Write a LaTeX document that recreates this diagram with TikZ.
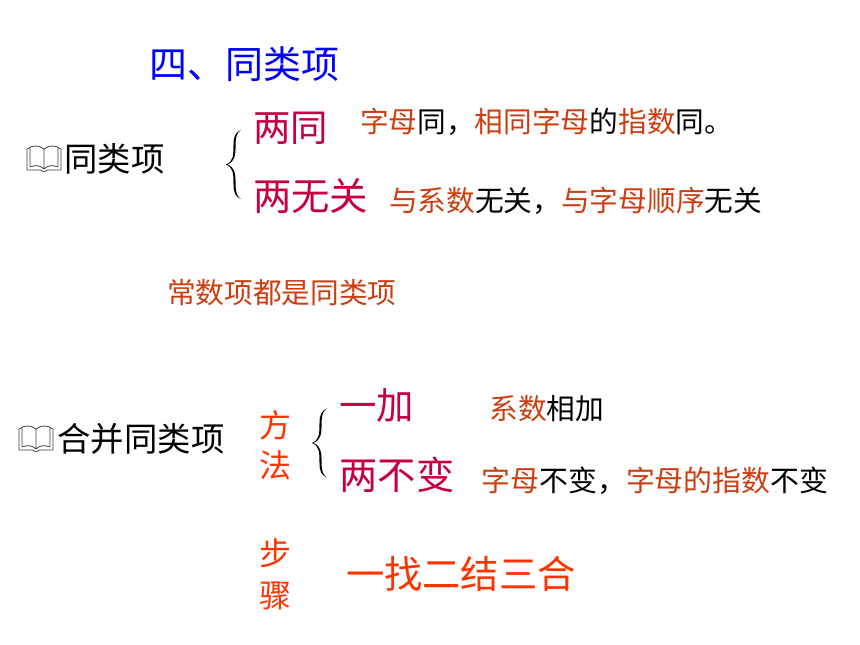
\documentclass[tikz,border=0pt]{standalone}
\usepackage{fontspec}
\setmainfont{Noto Sans CJK SC}
\definecolor{headblue}{HTML}{0000FF}
\definecolor{crimsonc}{HTML}{C4003F}
\definecolor{rustc}{HTML}{CC3D10}
\definecolor{orangec}{HTML}{FF3300}
\newcommand{\rs}[1]{\textcolor{rustc}{#1}}
\tikzset{
 x=1pt,y=1pt,
 lbl/.style={inner sep=0pt,outer sep=0pt,anchor=base west},
 sizeT/.style={lbl,font=\fontsize{38}{40}\selectfont},
 sizeL/.style={lbl,font=\fontsize{37.4}{40}\selectfont,text=crimsonc},
 sizeM/.style={lbl,font=\fontsize{33.4}{36}\selectfont,text=black},
 sizeS/.style={lbl,font=\fontsize{28.7}{30}\selectfont,text=black},
 sizeV/.style={lbl,font=\fontsize{32}{34}\selectfont,text=orangec},
 bracesym/.pic={
  \fill[black] (15,34.5)
    .. controls (9.5,32.5) and (7.5,28) .. (7.5,20)
    .. controls (7.5,8) and (7,3) .. (0,0)
    .. controls (7,-3) and (7.5,-8) .. (7.5,-20)
    .. controls (7.5,-28) and (9.5,-32.5) .. (15,-34.5)
    .. controls (11,-32) and (9.6,-28) .. (9.6,-20)
    .. controls (9.6,-8) and (8.5,-3) .. (1.5,0)
    .. controls (8.5,3) and (9.6,8) .. (9.6,20)
    .. controls (9.6,28) and (11,32) .. (15,34.5) -- cycle;
 },
 bookicon/.pic={
  \draw[black!75,line width=0.8pt,fill=white]
    (0,2) -- (0,23) .. controls (5,27) and (12,27) .. (17,23)
    .. controls (22,27) and (29,27) .. (34,23) -- (34,2) -- (20,2)
    .. controls (19,0) and (15,0) .. (14,2) -- cycle;
  \draw[black!75,line width=0.8pt]
    (3,5) -- (3,25) (31,5) -- (31,25)
    (3,5) .. controls (8,7) and (13,7) .. (17,3)
    .. controls (21,7) and (26,7) .. (31,5)
    (17,3) -- (17,23);
 }
}
\begin{document}
\begin{tikzpicture}
\useasboundingbox (0,0) rectangle (860,645);
\fill[white] (0,0) rectangle (860,645);

\node[sizeT,text=headblue] (title) at (149,566) {四、同类项};

\pic at (27,473) {bookicon};
\node[sizeM] (tongleixiang) at (64.5,473) {同类项};
\node[sizeL] (liangtong) at (253,503) {两同};
\node[sizeL,font=\fontsize{38.4}{40}\selectfont] (liangwuguan) at (253,434) {两无关};
\node[sizeS] (note1) at (360,512) {\rs{字母}同，\rs{相同字母}的\rs{指数}同。};
\node[sizeS] (note2) at (389,433) {\rs{与系数}无关，\rs{与字母顺序}无关};
\pic at (226,480.5) {bracesym};

\node[sizeS,text=rustc] (changshu) at (167,341) {常数项都是同类项};

\pic at (19,193) {bookicon};
\node[sizeM] (hebing) at (57.5,193) {合并同类项};
\node[sizeV] (fang) at (259.5,207.5) {方};
\node[sizeV] (fa) at (259.5,167.5) {法};
\pic at (312,202) {bracesym};
\node[sizeL] (yijia) at (339,225) {一加};
\node[sizeL,font=\fontsize{38.3}{40}\selectfont] (liangbubian) at (339.5,155) {两不变};
\node[sizeS] (note3) at (489.5,225) {\rs{系数}相加};
\node[sizeS,font=\fontsize{28.9}{30}\selectfont] (note4) at (481.5,153) {\rs{字母}不变，\rs{字母的指数}不变};

\node[sizeV] (bu) at (259.5,79.5) {步};
\node[sizeV] (zhou) at (259.5,37.5) {骤};
\node[lbl,font=\fontsize{38.3}{40}\selectfont,text=orangec] (steps) at (346,56) {一找二结三合};
\end{tikzpicture}
\end{document}
